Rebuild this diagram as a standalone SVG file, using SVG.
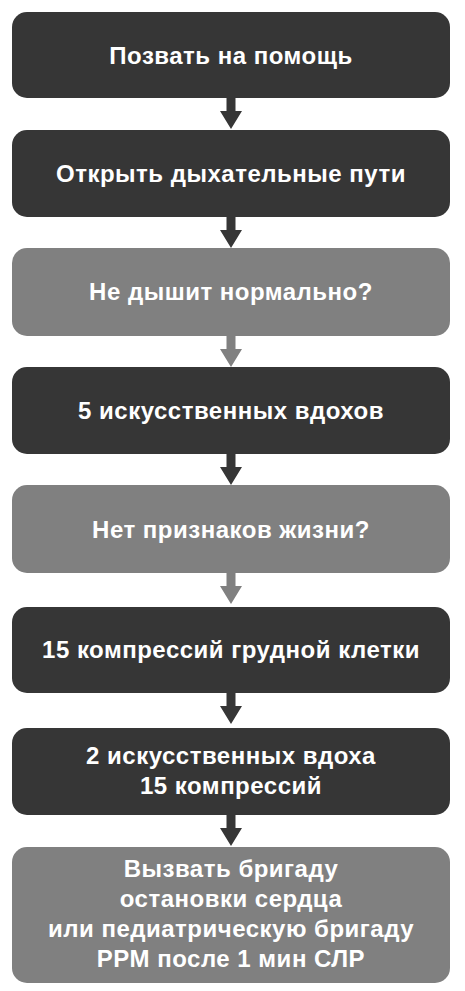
<svg xmlns="http://www.w3.org/2000/svg" width="465" height="991" viewBox="0 0 465 991">
<style>
.dark{fill:#363636}
.gray{fill:#808080}
.t{font-family:"Liberation Sans",Arial,sans-serif;font-weight:bold;font-size:24px;letter-spacing:0.5px;fill:#ffffff;text-anchor:middle}
</style>
<defs>
<path id="arr" d="M-4.5,0 H4.5 V14 H11 L0,32 L-11,14 H-4.5 Z"/>
</defs>
<rect width="465" height="991" fill="#ffffff"/>
<g id="connectors">
<use href="#arr" x="231" y="97" class="dark"/>
<use href="#arr" x="231" y="216" class="dark"/>
<use href="#arr" x="231" y="335" class="gray"/>
<use href="#arr" x="231" y="453" class="dark"/>
<use href="#arr" x="231" y="572" class="gray"/>
<use href="#arr" x="231" y="692" class="dark"/>
<use href="#arr" x="231" y="814" class="dark"/>
</g>
<g id="n1"><rect x="12" y="12" width="438" height="86" rx="15" class="dark"/><text x="231" y="64" class="t">Позвать на помощь</text></g>
<g id="n2"><rect x="12" y="130" width="438" height="87" rx="15" class="dark"/><text x="231" y="182" class="t">Открыть дыхательные пути</text></g>
<g id="n3"><rect x="12" y="248" width="438" height="88" rx="15" class="gray"/><text x="231" y="300" class="t">Не дышит нормально?</text></g>
<g id="n4"><rect x="12" y="367" width="438" height="87" rx="15" class="dark"/><text x="231" y="419" class="t">5 искусственных вдохов</text></g>
<g id="n5"><rect x="12" y="485" width="438" height="88" rx="15" class="gray"/><text x="231" y="538" class="t">Нет признаков жизни?</text></g>
<g id="n6"><rect x="12" y="607" width="438" height="86" rx="15" class="dark"/><text x="231" y="658" class="t">15 компрессий грудной клетки</text></g>
<g id="n7"><rect x="12" y="728" width="438" height="87" rx="15" class="dark"/><text x="231" y="764" class="t">2 искусственных вдоха</text><text x="231" y="794" class="t">15 компрессий</text></g>
<g id="n8"><rect x="12" y="847" width="438" height="136" rx="15" class="gray"/><text x="231" y="877" class="t">Вызвать бригаду</text><text x="231" y="907" class="t">остановки сердца</text><text x="231" y="937" class="t">или педиатрическую бригаду</text><text x="231" y="967" class="t">РРМ после 1 мин СЛР</text></g>
</svg>
